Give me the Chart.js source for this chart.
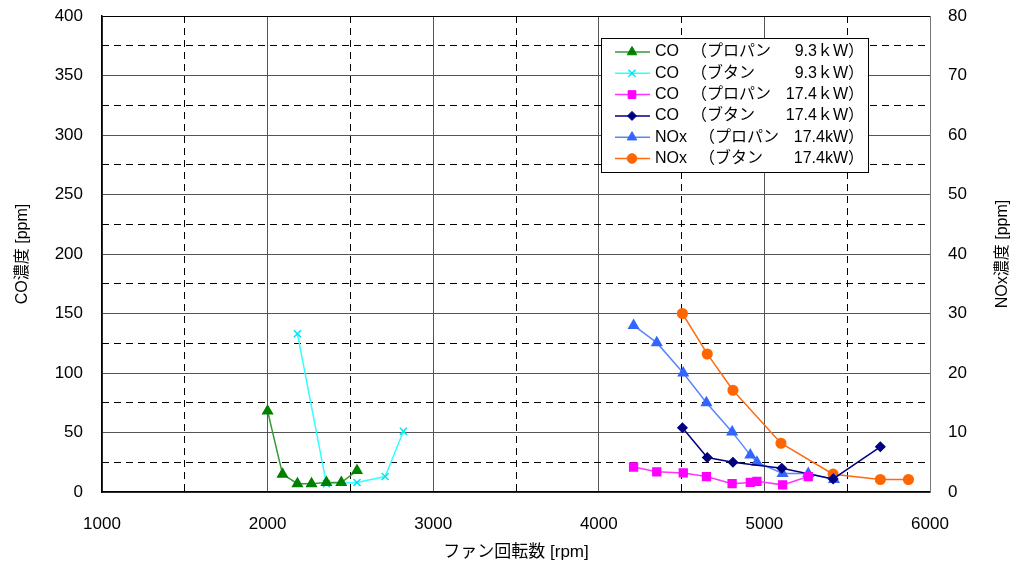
<!DOCTYPE html>
<html lang="ja">
<head>
<meta charset="UTF-8">
<title>ファン回転数とCO・NOx濃度</title>
<script src="https://cdn.jsdelivr.net/npm/chart.js"></script>
<style>
  body { margin: 0; background: #fff; }
  #wrap { width: 1022px; height: 567px; }
</style>
</head>
<body>
<div id="wrap"><canvas id="chart" width="1022" height="567"></canvas></div>
<script>
// 測定値 (横軸: ファン回転数 rpm)
const rpmCoPropane93 = [2000, 2090, 2180, 2265, 2355, 2445, 2540];
const coPropane93 = [68, 15, 7, 7, 8, 8, 18];
const rpmCoButane93 = [2180, 2355, 2540, 2710, 2820];
const coButane93 = [133, 7, 8, 13, 51];
const rpmCoPropane174 = [4210, 4350, 4510, 4650, 4805, 4915, 4955, 5110, 5265];
const coPropane174 = [21, 17, 16, 13, 7, 8, 9, 6, 13];
const rpmCoButane174 = [4505, 4655, 4810, 5105, 5415, 5700];
const coButane174 = [54, 29, 25, 20, 11, 38];
const rpmNoxPropane174 = [4210, 4350, 4510, 4650, 4805, 4915, 4955, 5110, 5265, 5420];
const noxPropane174 = [28, 25.1, 20, 15, 10.1, 6.2, 5, 3.1, 3.1, 2.1];
const rpmNoxButane174 = [4505, 4655, 4810, 5100, 5415, 5700, 5870];
const noxButane174 = [30, 23.2, 17.1, 8.2, 3, 2.1, 2.1];

// 凡例の文字 (3列)
const legendLabels = [
    ['CO', '（プロパン', '9.3ｋW）'],
    ['CO', '（ブタン', '9.3ｋW）'],
    ['CO', '（プロパン', '17.4ｋW）'],
    ['CO', '（ブタン', '17.4ｋW）'],
    ['NOx', '（プロパン', '17.4kW）'],
    ['NOx', '（ブタン', '17.4kW）']
];

// 目盛り
const xTicks = [1000, 2000, 3000, 4000, 5000, 6000];
const xMinorTicks = [1500, 2500, 3500, 4500, 5500];
const coTicks = [0, 50, 100, 150, 200, 250, 300, 350, 400];
const coMinorTicks = [25, 75, 125, 175, 225, 275, 325, 375];
const noxTicks = [0, 10, 20, 30, 40, 50, 60, 70, 80];

const FONT = "'Liberation Sans', Arial, 'Noto Sans CJK JP', sans-serif";
const NARROW = "'Liberation Sans Narrow', 'Liberation Sans', 'Noto Sans CJK JP', sans-serif";
const CLEAR = 'rgba(0,0,0,0)';

function pts(xs, ys) {
    return xs.map((x, i) => ({ x: x, y: ys[i] }));
}
function fixedTicks(list) {
    return scale => { scale.ticks = list.map(v => ({ value: v })); };
}
const plain = v => String(v);

const datasets = [
    { data: pts(rpmCoPropane93, coPropane93), yAxisID: 'y', borderColor: '#339933', backgroundColor: '#008000',
      pointBorderColor: '#008000', pointStyle: 'triangle', pointRadius: 5.5 },
    { data: pts(rpmCoButane93, coButane93), yAxisID: 'y', borderColor: '#33ffff', backgroundColor: '#00e5ee',
      pointBorderColor: '#00e5ee', pointStyle: 'crossRot', pointRadius: 5, pointBorderWidth: 1.5 },
    { data: pts(rpmCoPropane174, coPropane174), yAxisID: 'y', borderColor: '#ff33ff', backgroundColor: '#ff00ff',
      pointBorderColor: '#ff00ff', pointStyle: 'rect', pointRadius: 5.5 },
    { data: pts(rpmCoButane174, coButane174), yAxisID: 'y', borderColor: '#000080', backgroundColor: '#000080',
      pointBorderColor: '#000080', pointStyle: 'rectRot', pointRadius: 4.5 },
    { data: pts(rpmNoxPropane174, noxPropane174), yAxisID: 'y2', borderColor: '#5a85ff', backgroundColor: '#3366ff',
      pointBorderColor: '#3366ff', pointStyle: 'triangle', pointRadius: 5.5 },
    { data: pts(rpmNoxButane174, noxButane174), yAxisID: 'y2', borderColor: '#ff6a10', backgroundColor: '#ff6600',
      pointBorderColor: '#ff6600', pointStyle: 'circle', pointRadius: 4.8 }
];
datasets.forEach((d, i) => {
    d.label = legendLabels[i].join(' ');
    d.borderWidth = 1.5;
    d.tension = 0;
    d.fill = false;
});

// 凡例 (グラフ内の枠)
const legendBox = {
    id: 'legendBox',
    afterDraw(chart) {
        const ctx = chart.ctx;
        const x0 = 601, y0 = 38, w = 267, h = 134;
        ctx.save();
        ctx.fillStyle = '#fff';
        ctx.fillRect(x0, y0, w, h);
        ctx.strokeStyle = '#000';
        ctx.lineWidth = 1;
        ctx.strokeRect(x0 + 0.5, y0 + 0.5, w, h);
        ctx.font = '16px ' + FONT;
        ctx.textBaseline = 'middle';
        chart.data.datasets.forEach((ds, i) => {
            const y = 52 + i * 21.3;
            ctx.strokeStyle = ds.borderColor;
            ctx.lineWidth = 1.5;
            ctx.beginPath();
            ctx.moveTo(615, y);
            ctx.lineTo(650, y);
            ctx.stroke();
            ctx.fillStyle = ds.backgroundColor;
            ctx.strokeStyle = ds.pointBorderColor;
            ctx.lineWidth = ds.pointBorderWidth || 1;
            Chart.helpers.drawPoint(ctx, { pointStyle: ds.pointStyle, radius: ds.pointRadius, borderWidth: ctx.lineWidth }, 632, y);
            const parts = legendLabels[i];
            ctx.fillStyle = '#000';
            ctx.textAlign = 'left';
            ctx.fillText(parts[0], 655, y);
            const px = 655 + ctx.measureText(parts[0]).width + 12;
            ctx.fillText(parts[1], px, y);
            ctx.textAlign = 'right';
            ctx.fillText(parts[2], 864, y);
        });
        ctx.restore();
    }
};

// 右軸タイトル (下から上へ)
const rightTitle = {
    id: 'rightTitle',
    afterDraw(chart) {
        const ctx = chart.ctx;
        const area = chart.chartArea;
        ctx.save();
        ctx.translate(1003, (area.top + area.bottom) / 2);
        ctx.rotate(-Math.PI / 2);
        ctx.font = '16px ' + NARROW;
        ctx.fillStyle = '#000';
        ctx.textAlign = 'center';
        ctx.textBaseline = 'middle';
        ctx.fillText('NOx濃度 [ppm]', 0, 0);
        ctx.restore();
    }
};

new Chart(document.getElementById('chart'), {
    type: 'line',
    data: { datasets: datasets },
    plugins: [legendBox, rightTitle],
    options: {
        responsive: false,
        animation: false,
        layout: { padding: { top: 16, left: 0, right: 0, bottom: 0 } },
        plugins: { legend: { display: false }, tooltip: { enabled: false } },
        scales: {
            x: {
                type: 'linear', position: 'bottom', min: 1000, max: 6000,
                afterBuildTicks: fixedTicks(xTicks),
                afterFit: s => { s.height = 75; },
                grid: { color: '#555', lineWidth: 1, drawTicks: true, tickLength: 22, tickColor: CLEAR },
                border: { color: '#000', width: 1.5 },
                ticks: { color: '#000', padding: 0, callback: plain, font: { family: NARROW, size: 17 } },
                title: { display: true, text: 'ファン回転数 [rpm]', color: '#000',
                         padding: { top: 0, bottom: 4 }, font: { family: NARROW, size: 17 } }
            },
            xd: {
                type: 'linear', position: 'bottom', min: 1000, max: 6000,
                afterBuildTicks: fixedTicks(xMinorTicks),
                afterFit: s => { s.height = 0; },
                grid: { color: '#000', lineWidth: 1, drawTicks: false },
                border: { display: false, dash: [7, 5] },
                ticks: { display: false }
            },
            y: {
                type: 'linear', position: 'left', min: 0, max: 400,
                afterBuildTicks: fixedTicks(coTicks),
                afterFit: s => { s.width = 102; },
                grid: { color: ctx => ctx.tick && ctx.tick.value === 400 ? '#000' : '#555', lineWidth: 1,
                        drawTicks: true, tickLength: 19, tickColor: CLEAR },
                border: { color: '#000', width: 1.5 },
                ticks: { color: '#000', padding: 0, callback: plain, font: { family: FONT, size: 17 } },
                title: { display: true, text: 'CO濃度 [ppm]', color: '#000',
                         padding: { top: 13, bottom: 0 }, font: { family: NARROW, size: 16 } }
            },
            yd: {
                type: 'linear', position: 'left', min: 0, max: 400,
                afterBuildTicks: fixedTicks(coMinorTicks),
                afterFit: s => { s.width = 0; },
                grid: { color: '#000', lineWidth: 1, drawTicks: false },
                border: { display: false, dash: [7, 5] },
                ticks: { display: false }
            },
            y2: {
                type: 'linear', position: 'right', min: 0, max: 80,
                afterBuildTicks: fixedTicks(noxTicks),
                afterFit: s => { s.width = 92; },
                grid: { drawOnChartArea: false, drawTicks: true, tickLength: 18, tickColor: CLEAR },
                border: { color: '#777', width: 1 },
                ticks: { color: '#000', padding: 0, callback: plain, font: { family: FONT, size: 17 } },
                title: { display: false }
            }
        }
    }
});
</script>
</body>
</html>
